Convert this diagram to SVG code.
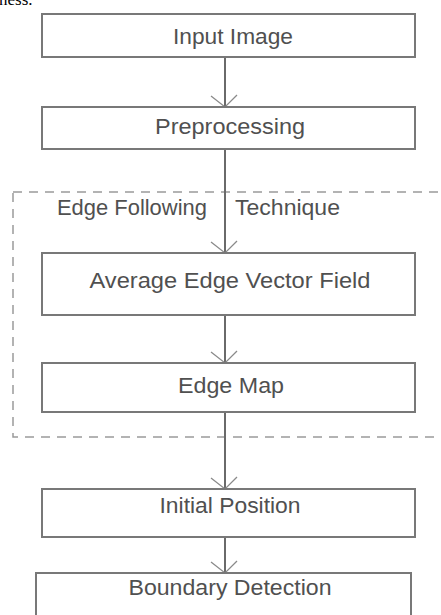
<svg xmlns="http://www.w3.org/2000/svg" width="441" height="615" viewBox="0 0 441 615">
  <defs>
    <style>
      .box { fill: #ffffff; stroke: #787878; stroke-width: 2; }
      .lbl { font-family: "Liberation Sans", Arial, sans-serif; font-size: 22px; fill: #505050; text-anchor: middle; }
      .conn { stroke: #6a6a6a; stroke-width: 2; fill: none; }
      .group { fill: none; stroke: #9a9a9a; stroke-width: 1.5; stroke-dasharray: 9 7; }
    </style>
    <marker id="vee" markerUnits="userSpaceOnUse" markerWidth="30" markerHeight="30" viewBox="-15 -15 30 30" refX="0" refY="0" orient="auto" overflow="visible">
      <path d="M-12,-12 L0,0 L-11,14" fill="none" stroke="#8a8a8a" stroke-width="1.3"/>
    </marker>
  </defs>
  <rect width="441" height="615" fill="#ffffff"/>
  <text x="-1" y="5" font-family="Liberation Serif, serif" font-size="17" fill="#000">ness.</text>

  <g id="edge-following-technique">
    <rect class="group" x="13" y="192" width="440" height="245"/>
    <text class="lbl" x="57" y="215" style="text-anchor:start"><tspan textLength="156" lengthAdjust="spacingAndGlyphs">Edge Following </tspan><tspan x="235" textLength="105" lengthAdjust="spacingAndGlyphs">Technique</tspan></text>
  </g>

  <g id="connectors">
    <line class="conn" x1="225" y1="57" x2="225" y2="107" marker-end="url(#vee)"/>
    <line class="conn" x1="225" y1="149" x2="225" y2="253" marker-end="url(#vee)"/>
    <line class="conn" x1="225" y1="315" x2="225" y2="363" marker-end="url(#vee)"/>
    <line class="conn" x1="225" y1="412" x2="225" y2="489" marker-end="url(#vee)"/>
    <line class="conn" x1="225" y1="537" x2="225" y2="573" marker-end="url(#vee)"/>
  </g>

  <g id="input-image">
    <rect class="box" x="42" y="14" width="373" height="43"/>
    <text class="lbl" x="233" y="44" textLength="120" lengthAdjust="spacingAndGlyphs">Input Image</text>
  </g>
  <g id="preprocessing">
    <rect class="box" x="42" y="107" width="373" height="42"/>
    <text class="lbl" x="230" y="134" textLength="150" lengthAdjust="spacingAndGlyphs">Preprocessing</text>
  </g>
  <g id="average-edge-vector-field">
    <rect class="box" x="42" y="253" width="373" height="62"/>
    <text class="lbl" x="230" y="288" textLength="281" lengthAdjust="spacingAndGlyphs">Average Edge Vector Field</text>
  </g>
  <g id="edge-map">
    <rect class="box" x="42" y="363" width="373" height="49"/>
    <text class="lbl" x="231" y="393" textLength="106" lengthAdjust="spacingAndGlyphs">Edge Map</text>
  </g>
  <g id="initial-position">
    <rect class="box" x="42" y="489" width="373" height="48"/>
    <text class="lbl" x="230" y="513" textLength="141" lengthAdjust="spacingAndGlyphs">Initial Position</text>
  </g>
  <g id="boundary-detection">
    <rect class="box" x="36" y="573" width="375" height="60"/>
    <text class="lbl" x="230" y="595" textLength="203" lengthAdjust="spacingAndGlyphs">Boundary Detection</text>
  </g>
</svg>
